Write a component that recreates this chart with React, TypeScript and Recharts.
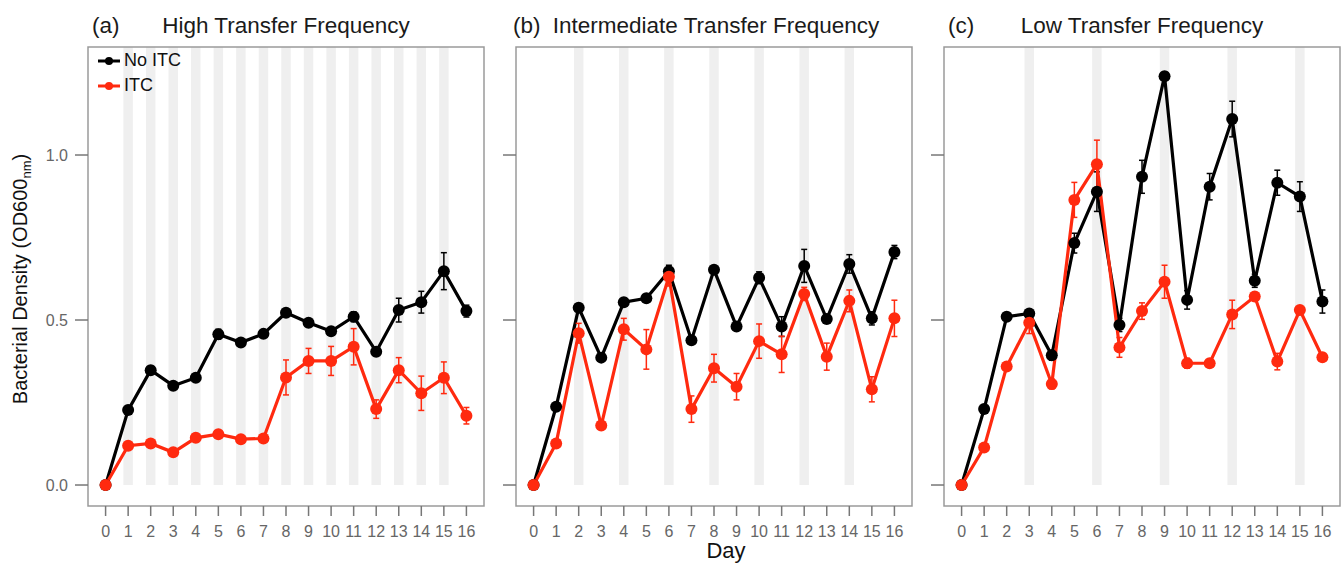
import React from 'react';
import { ComposedChart, Line, XAxis, YAxis, ReferenceArea, ErrorBar, Legend } from 'recharts';

// ---------- data ----------
const days = [0, 1, 2, 3, 4, 5, 6, 7, 8, 9, 10, 11, 12, 13, 14, 15, 16];
const yTicks = [0, 0.5, 1.0];
const seriesNames = ['No ITC', 'ITC'];
const seriesColors = ['#000000', '#ff2a0f'];

// (a) High transfer frequency
const highNoITC = [0, 0.227, 0.348, 0.301, 0.325, 0.457, 0.432, 0.458, 0.522, 0.492, 0.466, 0.510, 0.404, 0.530, 0.554, 0.648, 0.527];
const highNoITCErr = [0, 0.01, 0.012, 0.01, 0.01, 0.015, 0.01, 0.01, 0.01, 0.012, 0.01, 0.015, 0.012, 0.036, 0.033, 0.056, 0.018];
const highITC = [0, 0.119, 0.126, 0.099, 0.143, 0.154, 0.139, 0.141, 0.326, 0.376, 0.376, 0.419, 0.230, 0.348, 0.278, 0.325, 0.210];
const highITCErr = [0, 0.01, 0.01, 0.01, 0.012, 0.01, 0.01, 0.01, 0.053, 0.038, 0.044, 0.055, 0.028, 0.038, 0.052, 0.048, 0.025];
const highBands = [1, 2, 3, 4, 5, 6, 7, 8, 9, 10, 11, 12, 13, 14, 15];

// (b) Intermediate transfer frequency
const interNoITC = [0, 0.237, 0.537, 0.386, 0.554, 0.566, 0.648, 0.439, 0.652, 0.480, 0.628, 0.480, 0.664, 0.503, 0.670, 0.505, 0.706];
const interNoITCErr = [0, 0.01, 0.012, 0.01, 0.012, 0.01, 0.018, 0.01, 0.01, 0.01, 0.018, 0.03, 0.05, 0.012, 0.028, 0.02, 0.02];
const interITC = [0, 0.126, 0.460, 0.180, 0.472, 0.411, 0.631, 0.230, 0.354, 0.298, 0.436, 0.396, 0.579, 0.389, 0.558, 0.290, 0.505];
const interITCErr = [0, 0.01, 0.03, 0.01, 0.033, 0.06, 0.028, 0.04, 0.042, 0.04, 0.052, 0.055, 0.02, 0.041, 0.033, 0.038, 0.055];
const interBands = [2, 4, 6, 8, 10, 12, 14];

// (c) Low transfer frequency
const lowNoITC = [0, 0.230, 0.510, 0.520, 0.393, 0.733, 0.889, 0.485, 0.934, 1.239, 0.561, 0.904, 1.109, 0.619, 0.916, 0.874, 0.556];
const lowNoITCErr = [0, 0.01, 0.01, 0.01, 0.015, 0.03, 0.06, 0.02, 0.05, 0.012, 0.028, 0.04, 0.054, 0.02, 0.038, 0.045, 0.035];
const lowITC = [0, 0.114, 0.359, 0.492, 0.306, 0.864, 0.972, 0.417, 0.527, 0.616, 0.369, 0.369, 0.517, 0.571, 0.374, 0.530, 0.387];
const lowITCErr = [0, 0.01, 0.01, 0.033, 0.015, 0.053, 0.073, 0.03, 0.025, 0.05, 0.015, 0.01, 0.043, 0.012, 0.025, 0.01, 0.01];
const lowBands = [3, 6, 9, 12, 15];

// ---------- layout ----------
const X_DOMAIN: [number, number] = [-0.78, 16.78];
const Y_DOMAIN: [number, number] = [-0.0636, 1.3273];
const BAND_HALF = 0.21;
const FONT = '"Liberation Sans", Arial, Helvetica, sans-serif';

const panels = [
  { key: 'a', tag: '(a)', title: 'High Transfer Frequency', noItc: highNoITC, noItcErr: highNoITCErr, itc: highITC, itcErr: highITCErr, bands: highBands,
    left: 0, width: 500, yAxisWidth: 88, marginRight: 16, showYLabels: true, showLegend: true, tagX: 92, titleX: 286 },
  { key: 'b', tag: '(b)', title: 'Intermediate Transfer Frequency', noItc: interNoITC, noItcErr: interNoITCErr, itc: interITC, itcErr: interITCErr, bands: interBands,
    left: 430, width: 500, yAxisWidth: 86, marginRight: 18, showYLabels: false, showLegend: false, tagX: 513, titleX: 716 },
  { key: 'c', tag: '(c)', title: 'Low Transfer Frequency', noItc: lowNoITC, noItcErr: lowNoITCErr, itc: lowITC, itcErr: lowITCErr, bands: lowBands,
    left: 858, width: 485, yAxisWidth: 86, marginRight: 3, showYLabels: false, showLegend: false, tagX: 948, titleX: 1142 },
];

const renderLegend = (props: any) => {
  const payload = props.payload || [];
  const ordered = seriesNames
    .map((n) => payload.find((p: any) => p.value === n))
    .filter(Boolean);
  return (
    <div style={{ fontFamily: FONT, fontSize: 18, color: '#111' }}>
      {ordered.map((p: any) => (
        <div key={p.value} style={{ display: 'flex', alignItems: 'center', height: 25 }}>
          <svg width={26} height={12} style={{ display: 'block' }}>
            <line x1={1} x2={23} y1={6} y2={6} stroke={p.color} strokeWidth={3} />
            <circle cx={12} cy={6} r={4} fill={p.color} />
          </svg>
          <span style={{ marginLeft: 1, lineHeight: '25px' }}>{p.value}</span>
        </div>
      ))}
    </div>
  );
};

function Panel({ cfg }: { cfg: any }) {
  const rows = days.map((d, i) => ({
    day: d,
    noItc: cfg.noItc[i],
    noItcErr: cfg.noItcErr[i],
    itc: cfg.itc[i],
    itcErr: cfg.itcErr[i],
  }));
  return (
    <div style={{ position: 'absolute', left: cfg.left, top: 0, width: cfg.width, height: 564 }}>
      <ComposedChart width={cfg.width} height={564} data={rows}
        margin={{ top: 47, right: cfg.marginRight, bottom: 18, left: 0 }}>
        <XAxis dataKey="day" type="number" domain={X_DOMAIN} ticks={days} interval={0}
          allowDataOverflow axisLine={false} tickSize={10} tickMargin={10} height={40}
          tickLine={{ stroke: '#777', strokeWidth: 1.5 }}
          tick={{ fill: '#666', fontSize: 16, fontFamily: FONT }} />
        <YAxis type="number" domain={Y_DOMAIN} ticks={yTicks} allowDataOverflow axisLine={false}
          width={cfg.yAxisWidth} tickSize={13} tickMargin={7}
          tickLine={{ stroke: '#777', strokeWidth: 1.5 }}
          tick={{ fill: '#666', fontSize: 16, fontFamily: FONT }}
          tickFormatter={(v: number) => (cfg.showYLabels ? v.toFixed(1) : '')} />
        {cfg.bands.map((b: number) => (
          <ReferenceArea key={'band' + b} x1={b - BAND_HALF} x2={b + BAND_HALF} y1={0} y2={Y_DOMAIN[1]}
            fill="#efefef" fillOpacity={1} stroke="none" ifOverflow="visible" />
        ))}
        <ReferenceArea x1={X_DOMAIN[0]} x2={X_DOMAIN[1]} y1={Y_DOMAIN[0]} y2={Y_DOMAIN[1]}
          fill="none" stroke="#9a9a9a" strokeWidth={1.5} ifOverflow="visible" />
        <Line type="linear" dataKey="noItc" name={seriesNames[0]} stroke={seriesColors[0]} strokeWidth={3.2}
          dot={{ r: 6, fill: seriesColors[0], stroke: seriesColors[0], strokeWidth: 0 }} activeDot={false}
          isAnimationActive={false}>
          <ErrorBar dataKey="noItcErr" direction="y" width={3} stroke={seriesColors[0]} strokeWidth={1.5} isAnimationActive={false} />
        </Line>
        <Line type="linear" dataKey="itc" name={seriesNames[1]} stroke={seriesColors[1]} strokeWidth={3.2}
          dot={{ r: 6, fill: seriesColors[1], stroke: seriesColors[1], strokeWidth: 0 }} activeDot={false}
          isAnimationActive={false}>
          <ErrorBar dataKey="itcErr" direction="y" width={3} stroke={seriesColors[1]} strokeWidth={1.5} isAnimationActive={false} />
        </Line>
        {cfg.showLegend && (
          <Legend layout="vertical" align="center" verticalAlign="middle" content={renderLegend}
            wrapperStyle={{ left: 97, top: 48, width: 'auto', height: 'auto' }} />
        )}
      </ComposedChart>
    </div>
  );
}

export default function App() {
  return (
    <div style={{ position: 'absolute', left: 0, top: 0, width: 1343, height: 564, background: '#fff', fontFamily: FONT }}>
      {panels.map((p) => <Panel key={p.key} cfg={p} />)}
      <svg width={1343} height={564} style={{ position: 'absolute', left: 0, top: 0, pointerEvents: 'none' }}>
        {panels.map((p) => (
          <g key={'t' + p.key} fontFamily={FONT} fontSize={22.5} fill="#1a1a1a">
            <text x={p.tagX} y={33}>{p.tag}</text>
            <text x={p.titleX} y={33} textAnchor="middle">{p.title}</text>
          </g>
        ))}
        <text x={726} y={558} textAnchor="middle" fontFamily={FONT} fontSize={22} fill="#111">Day</text>
        <text transform="rotate(-90)" x={-279} y={27} textAnchor="middle" fontFamily={FONT} fontSize={20} fill="#111">
          Bacterial Density (OD600<tspan fontSize={13} dy={4}>nm</tspan><tspan dy={-4}>)</tspan>
        </text>
      </svg>
    </div>
  );
}
